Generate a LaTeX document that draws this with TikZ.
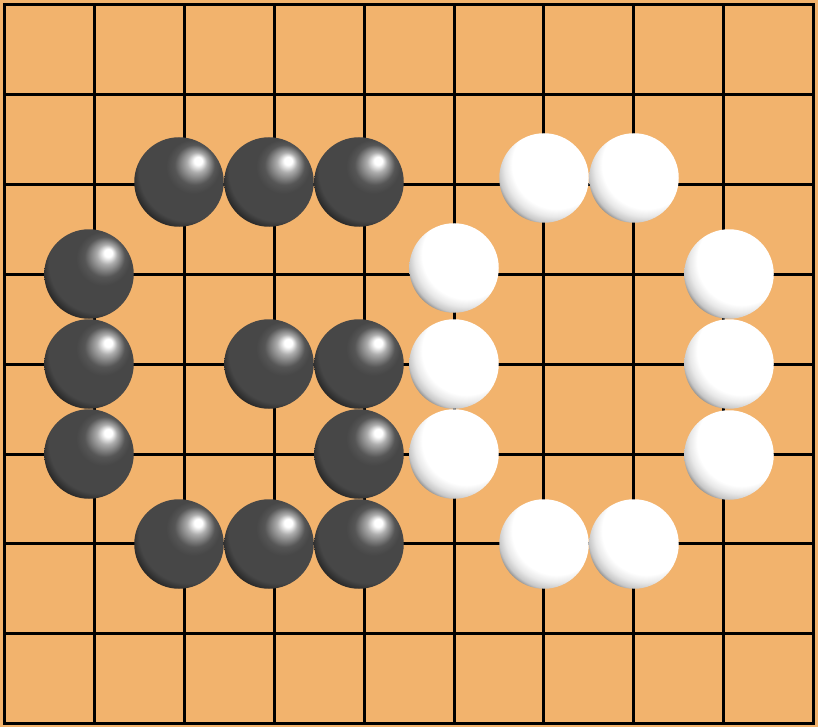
\documentclass[tikz,border=0pt]{standalone}

\definecolor{tablero}{RGB}{242,179,109}
\definecolor{grisnegra}{RGB}{71,71,71}
\definecolor{sombranegra}{RGB}{38,38,38}
\definecolor{grisblanca}{RGB}{136,136,136}

% sombreados de las piedras (tamano natural, radio de la piedra = 44.6bp)
\pgfdeclareradialshading{piedranegra}{\pgfpoint{20bp}{22bp}}{%
  color(0bp)=(white); color(4bp)=(white); color(10bp)=(white!55!grisnegra);
  color(20bp)=(white!8!grisnegra); color(27bp)=(grisnegra);
  color(49bp)=(grisnegra); color(56bp)=(sombranegra); color(90bp)=(sombranegra)}
\pgfdeclareradialshading{piedrablanca}{\pgfpoint{24bp}{26bp}}{%
  color(0bp)=(white); color(44bp)=(white); color(50bp)=(white!91!black);
  color(55bp)=(white!78!black); color(58bp)=(grisblanca); color(90bp)=(grisblanca)}

\newcommand{\sombreapiedra}[1]{%
  \pgftransformshift{\pgfpointanchor{path picture bounding box}{center}}%
  \pgflowlevelsynccm\pgfuseshading{#1}}

\begin{document}
\begin{tikzpicture}[
    x=1pt, y=-1pt,
    negra/.style={circle, inner sep=0pt, minimum size=89.5pt,
                  path picture={\sombreapiedra{piedranegra}}},
    blanca/.style={circle, inner sep=0pt, minimum size=89.5pt,
                   path picture={\sombreapiedra{piedrablanca}}},
    linea/.style={line width=3pt, line cap=rect}
]

% Tablero
\fill[tablero] (0,0) rectangle (818,727);
\useasboundingbox (0,0) rectangle (818,727);
\foreach \i in {0,...,9}
    \draw[linea] ({4.5+89.9*\i},4.5) -- ({4.5+89.9*\i},723.7);
\foreach \j in {0,...,8}
    \draw[linea] (4.5,{4.5+89.9*\j}) -- (813.6,{4.5+89.9*\j});

% Piedras negras
\node[negra] (n1)  at (179,182) {};
\node[negra] (n2)  at (269,182) {};
\node[negra] (n3)  at (359,182) {};
\node[negra] (n4)  at (89,274) {};
\node[negra] (n5)  at (89,364) {};
\node[negra] (n6)  at (89,454) {};
\node[negra] (n7)  at (269,364) {};
\node[negra] (n8)  at (359,364) {};
\node[negra] (n9)  at (359,454) {};
\node[negra] (n10) at (179,544) {};
\node[negra] (n11) at (269,544) {};
\node[negra] (n12) at (359,544) {};

% Piedras blancas
\node[blanca] (b1)  at (544,178) {};
\node[blanca] (b2)  at (634,178) {};
\node[blanca] (b3)  at (454,268) {};
\node[blanca] (b4)  at (454,364) {};
\node[blanca] (b5)  at (454,454) {};
\node[blanca] (b6)  at (729,274) {};
\node[blanca] (b7)  at (729,364) {};
\node[blanca] (b8)  at (729,455) {};
\node[blanca] (b9)  at (544,544) {};
\node[blanca] (b10) at (634,544) {};

\end{tikzpicture}
\end{document}
